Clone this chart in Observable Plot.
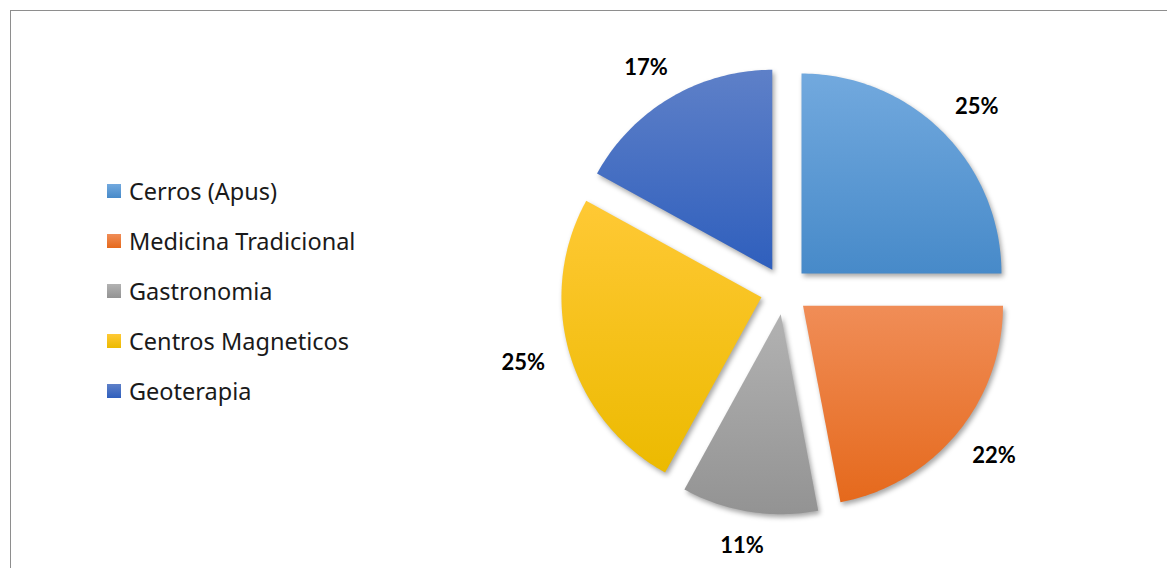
<!DOCTYPE html>
<html>
<head>
<meta charset="utf-8">
<script src="https://cdn.jsdelivr.net/npm/d3@7"></script>
<script src="https://cdn.jsdelivr.net/npm/@observablehq/plot@0.6"></script>
<style>
  html, body { margin: 0; padding: 0; background: #fff; }
  #wrap { position: relative; width: 1167px; height: 568px; overflow: hidden; font-family: Lato, "Noto Sans", sans-serif; }
  #frame { position: absolute; left: 10px; top: 10px; width: 1300px; height: 700px; border: 1.5px solid #8e8e8e; box-sizing: border-box; }
  #chart { position: absolute; left: 0; top: 0; }
  #chart g[aria-label="line"] path { filter: drop-shadow(2px 3px 2.5px rgba(0,0,0,0.35)); }
  #legend { position: absolute; left: 107px; top: 166px; }
  .row { display: flex; align-items: center; height: 50px; }
  .sw { width: 14px; height: 14px; margin-right: 8px; }
  .lab { font-family: "Noto Sans", sans-serif; font-size: 23.5px; color: #1a1a1a; white-space: nowrap; }
</style>
</head>
<body>
<div id="wrap">
  <div id="frame"></div>
  <div id="chart"></div>
  <div id="legend"></div>
</div>
<script>
// ---- data ----
const categories = ["Cerros (Apus)", "Medicina Tradicional", "Gastronomia", "Centros Magneticos", "Geoterapia"];
const shares = [25, 22, 11, 25, 17];
const shareLabels = ["25%", "22%", "11%", "25%", "17%"];
const colorsTop = ["#72a9de", "#f08d57", "#b2b2b2", "#ffc935", "#5e80c8"];
const colorsBottom = ["#478ac9", "#e5691c", "#939393", "#ecba00", "#2f5fbd"];

// ---- geometry (in radius units) ----
const explode = 0.12;
const labelRadius = 1.25;
const labelHalfW = 0.11, labelHalfH = 0.045;
const total = d3.sum(shares);
const slices = [];
const labelRows = [];
let acc = 0;
shares.forEach((v, i) => {
  const a0 = acc / total * 2 * Math.PI;
  acc += v;
  const a1 = acc / total * 2 * Math.PI;
  const mid = (a0 + a1) / 2;
  const ox = explode * Math.sin(mid), oy = explode * Math.cos(mid);
  slices.push({cat: categories[i], i, x: ox, y: oy, fill: `url(#grad${i})`});
  const n = Math.max(8, Math.ceil((a1 - a0) / (Math.PI / 180)));
  for (let k = 0; k <= n; k++) {
    const a = a0 + (a1 - a0) * k / n;
    slices.push({cat: categories[i], i, x: ox + Math.sin(a), y: oy + Math.cos(a), fill: `url(#grad${i})`});
  }
  labelRows.push({
    text: shareLabels[i],
    x: (labelRadius + labelHalfW) * Math.sin(mid),
    y: (labelRadius + labelHalfH) * Math.cos(mid)
  });
});

const defsMark = () => {
  const defs = d3.create("svg:defs");
  categories.forEach((c, i) => {
    const g = defs.append("linearGradient").attr("id", `grad${i}`)
      .attr("x1", 0).attr("y1", 0).attr("x2", 0).attr("y2", 1);
    g.append("stop").attr("offset", "0%").attr("stop-color", colorsTop[i]);
    g.append("stop").attr("offset", "100%").attr("stop-color", colorsBottom[i]);
  });
  return defs.node();
};

const chart = Plot.plot({
  width: 1167,
  height: 568,
  margin: 0,
  style: {background: "transparent", overflow: "visible"},
  x: {domain: [-1, 1], range: [584, 984], axis: null},
  y: {domain: [-1, 1], range: [490, 90], axis: null},
  color: {type: "identity"},
  marks: [
    defsMark,
    Plot.line(slices, {x: "x", y: "y", z: "cat", fill: "fill", stroke: "none", curve: "linear-closed"}),
    Plot.text(labelRows, {x: "x", y: "y", text: "text", fontSize: 22, fontWeight: "bold", fill: "#000", fontFamily: "Lato, 'Noto Sans', sans-serif"})
  ]
});
document.getElementById("chart").appendChild(chart);

// ---- legend ----
const legend = d3.select("#legend");
categories.forEach((c, i) => {
  const row = legend.append("div").attr("class", "row");
  row.append("div").attr("class", "sw")
    .style("background", `linear-gradient(${colorsTop[i]}, ${colorsBottom[i]})`);
  row.append("div").attr("class", "lab").text(c);
});
</script>
</body>
</html>
